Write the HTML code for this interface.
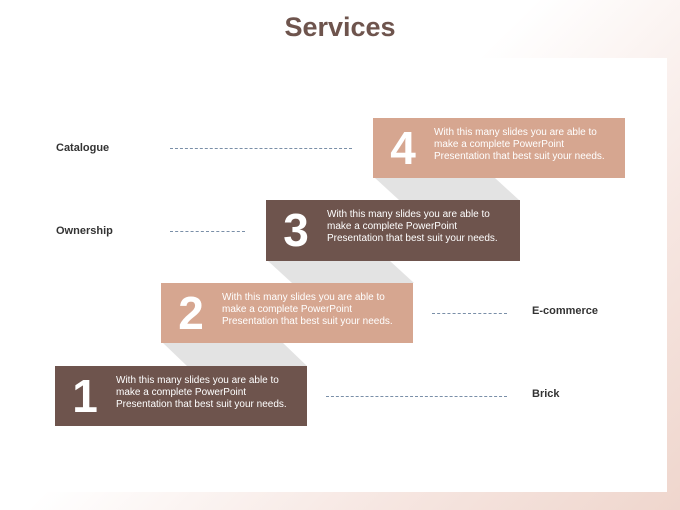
<!DOCTYPE html>
<html><head><style>
body{margin:0;width:680px;height:510px;overflow:hidden;position:relative;font-family:"Liberation Sans",sans-serif;
background:linear-gradient(135deg,#fff 45%,#f6e6e1 75%,#efd6cd 100%);}
.panel{position:absolute;left:14px;top:58px;width:653px;height:434px;background:#fff;}
h1{position:absolute;left:0;width:680px;top:12px;margin:0;text-align:center;font-size:27px;font-weight:bold;color:#6e544d;}
.box{position:absolute;width:252px;height:60px;color:#fff;}
.box .n{position:absolute;left:10px;top:3px;font-size:46px;font-weight:bold;width:40px;text-align:center;}
.box .t{position:absolute;left:61px;top:9px;font-size:10px;line-height:12px;}
.lt{background:#d6a690}.dk{background:#6e544d}
.lbl{position:absolute;font-size:11px;font-weight:bold;color:#333;}
.d{position:absolute;border-top:1px dashed #7a8fa8;height:0;}
</style></head><body>
<div class="panel"></div>
<h1>Services</h1>
<svg width="680" height="510" style="position:absolute;left:0;top:0">
<g fill="#e3e3e3">
<polygon points="375,178 495,178 519,200 399,200"/>
<polygon points="268,261 390,261 414,283 292,283"/>
<polygon points="163,343 283,343 307,366 187,366"/>
</g></svg>
<div class="box lt" style="left:373px;top:118px"><div class="n">4</div><div class="t">With this many slides you are able to<br>make a complete PowerPoint<br>Presentation that best suit your needs.</div></div>
<div class="box dk" style="left:266px;top:200px;width:254px;height:61px"><div class="n">3</div><div class="t">With this many slides you are able to<br>make a complete PowerPoint<br>Presentation that best suit your needs.</div></div>
<div class="box lt" style="left:161px;top:283px"><div class="n">2</div><div class="t">With this many slides you are able to<br>make a complete PowerPoint<br>Presentation that best suit your needs.</div></div>
<div class="box dk" style="left:55px;top:366px"><div class="n">1</div><div class="t">With this many slides you are able to<br>make a complete PowerPoint<br>Presentation that best suit your needs.</div></div>
<div class="lbl" style="left:56px;top:142px">Catalogue</div>
<div class="lbl" style="left:56px;top:225px">Ownership</div>
<div class="lbl" style="left:532px;top:305px">E-commerce</div>
<div class="lbl" style="left:532px;top:388px">Brick</div>
<div class="d" style="left:170px;top:148px;width:182px"></div>
<div class="d" style="left:170px;top:231px;width:75px"></div>
<div class="d" style="left:432px;top:313px;width:75px"></div>
<div class="d" style="left:326px;top:396px;width:181px"></div>
</body></html>
